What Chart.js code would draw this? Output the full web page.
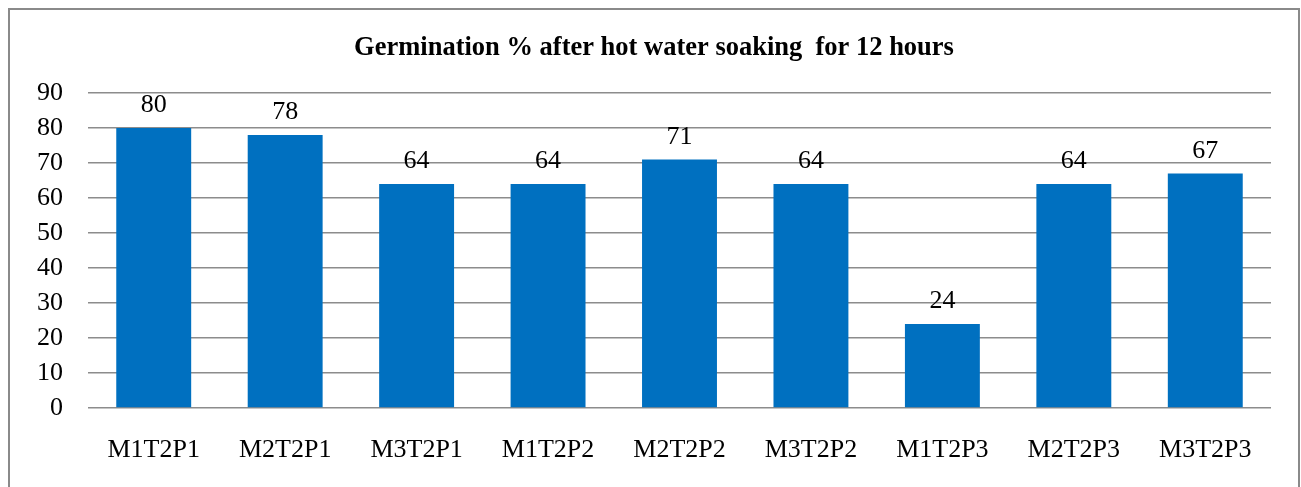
<!DOCTYPE html>
<html>
<head>
<meta charset="utf-8">
<script src="https://cdn.jsdelivr.net/npm/chart.js@4.4.1/dist/chart.umd.min.js"></script>
<style>
  html, body { margin: 0; padding: 0; background: #fff; overflow: hidden; }
  canvas { display: block; }
</style>
</head>
<body>
<canvas id="chart" width="1301" height="487"></canvas>
<script>
// Data
const chartTitle = 'Germination % after hot water soaking  for 12 hours';
const categories = ['M1T2P1', 'M2T2P1', 'M3T2P1', 'M1T2P2', 'M2T2P2', 'M3T2P2', 'M1T2P3', 'M2T2P3', 'M3T2P3'];
const germination = [80, 78, 64, 64, 71, 64, 24, 64, 67];
const yTicks = [0, 10, 20, 30, 40, 50, 60, 70, 80, 90];

const FONT = "'Liberation Serif', 'Times New Roman', serif";

// Outer frame and title, like the chart box in the original document
const framePlugin = {
  id: 'frame',
  beforeDraw(chart) {
    const ctx = chart.ctx;
    ctx.save();
    ctx.fillStyle = '#fff';
    ctx.fillRect(0, 0, chart.width, chart.height);
    ctx.strokeStyle = '#8a8a8a';
    ctx.lineWidth = 2;
    ctx.beginPath();
    ctx.moveTo(9, chart.height + 5);
    ctx.lineTo(9, 9);
    ctx.lineTo(1299, 9);
    ctx.lineTo(1299, chart.height + 5);
    ctx.stroke();

    ctx.font = 'bold 26.5px ' + FONT;
    ctx.fillStyle = '#000';
    ctx.textAlign = 'center';
    ctx.textBaseline = 'alphabetic';
    ctx.fillText(chartTitle, 654, 55);
    ctx.restore();
  }
};

// Value labels above the bars
const valueLabels = {
  id: 'valueLabels',
  afterDatasetsDraw(chart) {
    const ctx = chart.ctx;
    const meta = chart.getDatasetMeta(0);
    ctx.save();
    ctx.font = '26px ' + FONT;
    ctx.fillStyle = '#000';
    ctx.textAlign = 'center';
    ctx.textBaseline = 'alphabetic';
    meta.data.forEach((bar, i) => {
      ctx.fillText(String(germination[i]), bar.x, bar.y - 16);
    });
    ctx.restore();
  }
};

new Chart(document.getElementById('chart').getContext('2d'), {
  type: 'bar',
  data: {
    labels: categories,
    datasets: [{
      data: germination,
      backgroundColor: '#0070C0',
      borderWidth: 0,
      barPercentage: 0.57,
      categoryPercentage: 1.0
    }]
  },
  options: {
    responsive: false,
    animation: false,
    layout: { padding: { left: 0, right: 30, top: 93, bottom: 0 } },
    plugins: {
      legend: { display: false },
      tooltip: { enabled: false },
      title: { display: false }
    },
    scales: {
      x: {
        grid: { display: false },
        border: { display: false },
        ticks: {
          color: '#000',
          font: { family: FONT, size: 26 },
          padding: 19,
          maxRotation: 0,
          autoSkip: false
        },
        afterFit(scale) { scale.height = 79; }
      },
      y: {
        min: 0,
        max: 90,
        afterBuildTicks(scale) { scale.ticks = yTicks.map(v => ({ value: v })); },
        grid: { color: '#8c8c8c', lineWidth: 1.5, drawTicks: false },
        border: { display: false },
        ticks: {
          color: '#000',
          font: { family: FONT, size: 26 },
          padding: 25
        },
        afterFit(scale) { scale.width = 88; }
      }
    }
  },
  plugins: [framePlugin, valueLabels]
});
</script>
</body>
</html>
